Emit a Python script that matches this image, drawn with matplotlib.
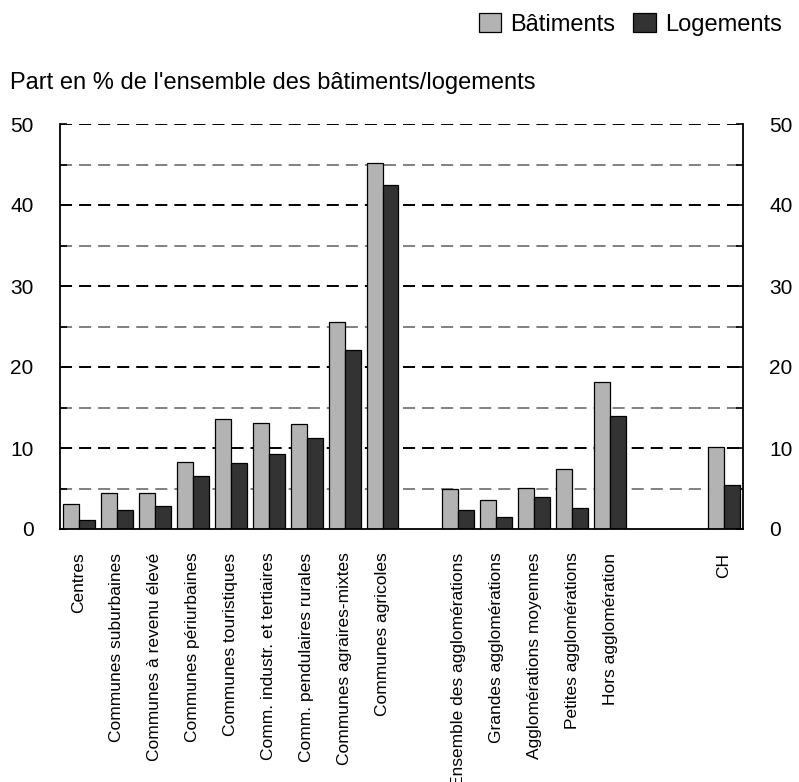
import matplotlib
matplotlib.use("Agg")
import matplotlib.pyplot as plt
from matplotlib.patches import Patch
from matplotlib.ticker import MultipleLocator

plt.rcParams['font.family'] = ['Liberation Sans', 'DejaVu Sans']

categories = ["Centres", "Communes suburbaines", "Communes à revenu élevé",
              "Communes périurbaines", "Communes touristiques",
              "Comm. industr. et tertiaires", "Comm. pendulaires rurales",
              "Communes agraires-mixtes", "Communes agricoles",
              "Ensemble des agglomérations", "Grandes agglomérations",
              "Agglomérations moyennes", "Petites agglomérations",
              "Hors agglomération", "CH"]
slots = [0, 1, 2, 3, 4, 5, 6, 7, 8, 10, 11, 12, 13, 14, 17]
batiments = [3.1, 4.5, 4.4, 8.3, 13.6, 13.1, 13.0, 25.6, 45.2,
             4.9, 3.6, 5.1, 7.4, 18.2, 10.1]
logements = [1.1, 2.3, 2.8, 6.6, 8.2, 9.2, 11.2, 22.1, 42.5,
             2.3, 1.5, 4.0, 2.6, 14.0, 5.4]

c_bat = "#b3b3b3"
c_log = "#333333"

fig = plt.figure(figsize=(7.99, 7.82), dpi=100)
ax = fig.add_axes([60/799, 1 - 529/782, (743-60)/799, (529-124)/782])

w = 0.42
ax.bar([s - w/2 for s in slots], batiments, width=w, color=c_bat,
       edgecolor="black", linewidth=0.9, zorder=3)
ax.bar([s + w/2 for s in slots], logements, width=w, color=c_log,
       edgecolor="black", linewidth=0.9, zorder=3)

ax.set_xlim(-0.5, 17.5)
ax.set_ylim(0, 50)

for v in range(5, 51, 5):
    col = "#000000" if v % 10 == 0 else "#808080"
    ax.axhline(v, color=col, linewidth=1.4, linestyle=(0, (6.2, 3.6)), zorder=1)

ax.spines['top'].set_visible(False)
for s in ['left', 'right', 'bottom']:
    ax.spines[s].set_linewidth(1.3)
    ax.spines[s].set_zorder(4)

ax.yaxis.set_major_locator(MultipleLocator(10))
ax.yaxis.set_minor_locator(MultipleLocator(5))
ax.tick_params(axis='y', which='both', direction='in', left=True, right=True,
               labelleft=True, labelright=True, length=5, width=1.2,
               labelsize=15, pad=19)
ax.tick_params(axis='y', which='minor', length=5)

ax.set_xticks(slots)
ax.set_xticklabels(categories, rotation=90, va='top', ha='center', fontsize=12.5)
ax.tick_params(axis='x', length=0, pad=17)

fig.text(10/799, 1 - 89/782, "Part en % de l'ensemble des bâtiments/logements",
         fontsize=17, ha='left', va='baseline')

handles = [Patch(facecolor=c_bat, edgecolor="black", linewidth=0.9, label="Bâtiments"),
           Patch(facecolor=c_log, edgecolor="black", linewidth=0.9, label="Logements")]
fig.legend(handles=handles, loc='upper right', bbox_to_anchor=(782/799, 1 - 13/782),
           ncol=2, frameon=False, fontsize=17, handlelength=0.95, handleheight=0.85,
           handletextpad=0.4, columnspacing=0.75, borderpad=0, borderaxespad=0)

fig.savefig("out.png", dpi=100)
